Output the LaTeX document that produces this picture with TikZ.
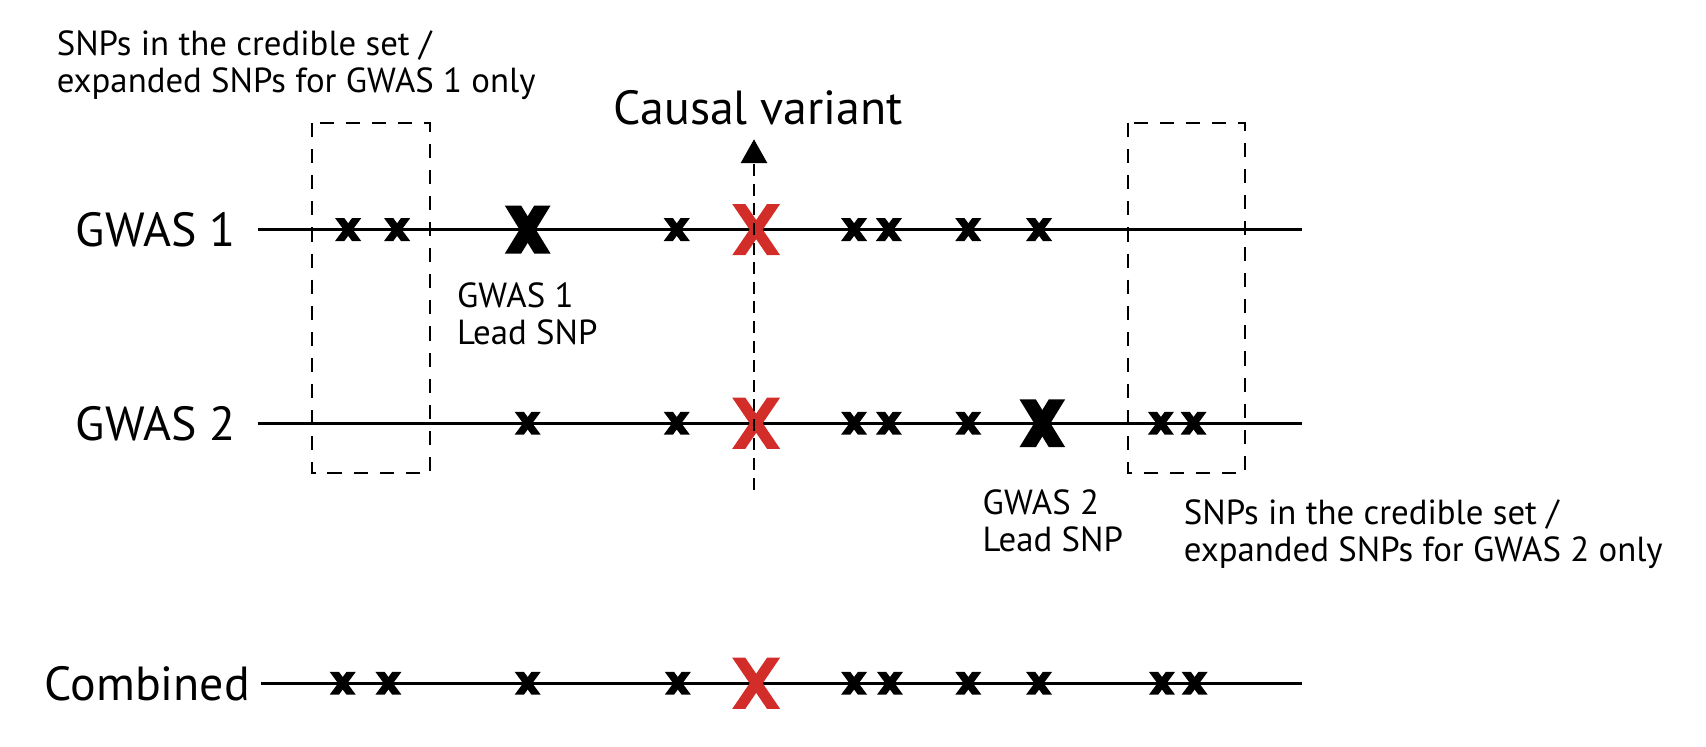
\documentclass[tikz,border=0pt]{standalone}
\usepackage{fontspec}
\setmainfont{PT Sans}
\usetikzlibrary{arrows.meta,positioning}
\definecolor{causalred}{RGB}{210,45,40}

\tikzset{
  track/.style={line width=3.2pt},
  credbox/.style={draw, line width=1.8pt, dash pattern=on 13pt off 11pt},
  % marks drawn like bold glyphs: arms with flat top and bottom ends
  snp/.pic={
    \fill (-12,-10.5) -- (-3.5,-10.5) -- (12,10.5) -- (3.5,10.5) -- cycle;
    \fill (12,-10.5) -- (3.5,-10.5) -- (-12,10.5) -- (-3.5,10.5) -- cycle;},
  leadsnp/.pic={
    \fill (-21,-22) -- (-6,-22) -- (21,22) -- (6,22) -- cycle;
    \fill (21,-22) -- (6,-22) -- (-21,22) -- (-6,22) -- cycle;},
  causalsnp/.pic={
    \fill[causalred] (-22,-23.5) -- (-10,-23.5) -- (22,23.5) -- (10,23.5) -- cycle;
    \fill[causalred] (22,-23.5) -- (10,-23.5) -- (-22,23.5) -- (-10,23.5) -- cycle;},
  rowlabel/.style={font=\fontsize{44}{50}\selectfont, anchor=east, inner sep=0pt},
  note/.style={font=\fontsize{32}{34}\selectfont, align=left, anchor=west, inner sep=0pt},
}

\begin{document}
\begin{tikzpicture}[x=1pt, y=-1pt]
\useasboundingbox (0,0) rectangle (1568,686);

% Row labels
\node[rowlabel] (lab1) at (217,211) {GWAS 1};
\node[rowlabel] (lab2) at (217,389) {GWAS 2};
\node[rowlabel] (lab3) at (230,628) {Combined};

% Tracks
\coordinate (g1s) at (237,211);  \coordinate (g1e) at (1197,211);
\coordinate (g2s) at (237,389);  \coordinate (g2e) at (1197,389);
\coordinate (cbs) at (240,628);  \coordinate (cbe) at (1197,628);
\draw[track] (g1s) -- (g1e);
\draw[track] (g2s) -- (g2e);
\draw[track] (cbs) -- (cbe);

% Credible set boxes (GWAS-specific)
\draw[credbox] (287,113) rectangle (395,435);
\draw[credbox] (1037,113) rectangle (1144,435);

% SNPs on GWAS 1
\foreach \x in {320,365,622,785,817,890,955}
  \pic at (\x,211) {snp};
\pic at (485,211) {leadsnp};
\pic at (695,211) {causalsnp};

% SNPs on GWAS 2
\foreach \x in {485,622,785,817,890,1067,1097}
  \pic at (\x,389) {snp};
\pic at (958,389) {leadsnp};
\pic at (695,389) {causalsnp};

% Combined SNPs
\foreach \x in {315,357,485,623,785,818,890,955,1068,1098}
  \pic at (\x,628) {snp};
\pic at (695,628) {causalsnp};

% Causal variant marker
\coordinate (cvbot) at (693,450);
\coordinate (cvtop) at (693,128);
\draw[line width=2.6pt, dash pattern=on 11pt off 7pt, -{Triangle[length=22pt,width=24pt]}] (cvbot) -- (cvtop);
\node[font=\fontsize{44}{50}\selectfont, anchor=base, inner sep=0pt] (cvlab) at (697,114) {Causal variant};

% Notes
\node[note] (cred1) at (52,60) {SNPs in the credible set /\\expanded SNPs for GWAS 1 only};
\node[note] (lead1) at (420,288) {GWAS 1\\Lead SNP};
\node[note] (lead2) at (903,479) {GWAS 2\\Lead SNP};
\node[note] (cred2) at (1088,491) {SNPs in the credible set /\\expanded SNPs for GWAS 2 only};

\end{tikzpicture}
\end{document}
